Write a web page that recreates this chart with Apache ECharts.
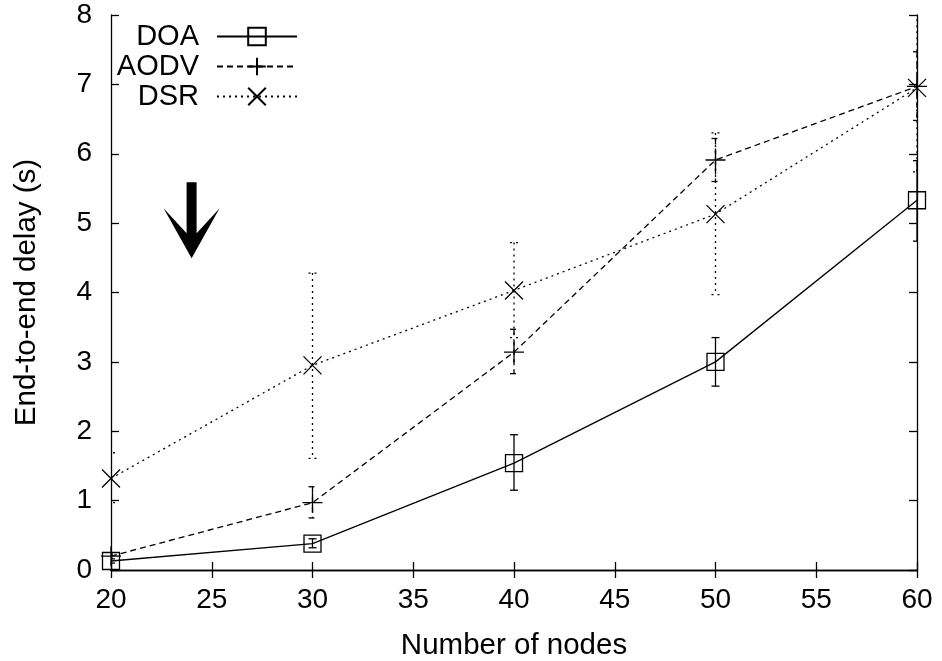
<!DOCTYPE html>
<html>
<head>
<meta charset="utf-8">
<script src="https://cdn.jsdelivr.net/npm/echarts@6/dist/echarts.min.js"></script>
<style>
  html, body { margin: 0; padding: 0; background: #fff; }
  #chart { width: 942px; height: 661px; }
</style>
</head>
<body>
<div id="chart"></div>
<script>
// Number of nodes in the network
const nodes = [20, 30, 40, 50, 60];

// Mean end-to-end delay (s) and error-bar bounds per protocol
const doaDelay = [0.13, 0.38, 1.54, 3.00, 5.33];
const doaLow   = [0.10, 0.32, 1.15, 2.65, 4.74];
const doaHigh  = [0.16, 0.45, 1.95, 3.35, 5.90];

const aodvDelay = [0.20, 0.97, 3.14, 5.91, 6.97];
const aodvLow   = [0.17, 0.75, 2.83, 5.60, 6.48];
const aodvHigh  = [0.23, 1.20, 3.47, 6.22, 7.47];

const dsrDelay = [1.32, 2.95, 4.03, 5.13, 6.95];
const dsrLow   = [0.97, 1.61, 3.35, 3.97, 5.74];
const dsrHigh  = [1.69, 4.28, 4.72, 6.30, 8.20];

// Axis ticks
const xTicks = [20, 25, 30, 35, 40, 45, 50, 55, 60];
const yTicks = [0, 1, 2, 3, 4, 5, 6, 7, 8];

const FONT = "'Liberation Sans', Arial, Helvetica, sans-serif";
const LW = 1.3;

const SQUARE = 'path://M0,0 L20,0 L20,20 L0,20 Z';
const PLUS = 'path://M0,10 L20,10 M10,0 L10,20';
const CROSS = 'path://M0,0 L20,20 M20,0 L0,20';
const ARROW = 'path://M23,0 L33,0 L33,51 L56,26 L28,76 L0,26 L23,51 Z';

function pairs(xs, ys) { return xs.map((x, i) => [x, ys[i]]); }
function triples(xs, lo, hi) { return xs.map((x, i) => [x, lo[i], hi[i]]); }

function lineSeries(name, values, symbol, size, dash) {
  return {
    name: name,
    type: 'line',
    data: pairs(nodes, values),
    symbol: symbol,
    symbolSize: size,
    z: 3,
    lineStyle: { color: '#000', width: LW, type: dash },
    itemStyle: { color: 'rgba(0,0,0,0)', borderColor: '#000', borderWidth: LW },
    emphasis: { disabled: true }
  };
}

function errorSeries(name, lo, hi, dash) {
  return {
    name: name,
    type: 'custom',
    clip: true,
    z: 2,
    data: triples(nodes, lo, hi),
    encode: { x: 0, y: [1, 2] },
    renderItem: function (params, api) {
      const x = api.value(0);
      const top = api.coord([x, api.value(2)]);
      const bot = api.coord([x, api.value(1)]);
      const cap = 4;
      const style = { stroke: '#000', lineWidth: LW, lineDash: dash, fill: null };
      return {
        type: 'group',
        children: [
          { type: 'line', shape: { x1: top[0], y1: top[1], x2: bot[0], y2: bot[1] }, style: style },
          { type: 'line', shape: { x1: top[0] - cap, y1: top[1], x2: top[0] + cap, y2: top[1] }, style: style },
          { type: 'line', shape: { x1: bot[0] - cap, y1: bot[1], x2: bot[0] + cap, y2: bot[1] }, style: style }
        ]
      };
    }
  };
}

const tickText = { color: '#000', fontSize: 28, fontFamily: FONT };
const titleText = { color: '#000', fontSize: 29.5, fontFamily: FONT };
const frameLine = { show: true, lineStyle: { color: '#000', width: LW } };
const innerTick = { show: true, inside: true, length: 8, lineStyle: { color: '#000', width: LW } };

const chart = echarts.init(document.getElementById('chart'), null, { renderer: 'canvas' });

const doa = lineSeries('DOA', doaDelay, SQUARE, 17, 'solid');
doa.markPoint = {
  symbol: ARROW,
  symbolSize: [56, 76],
  symbolKeepAspect: false,
  label: { show: false },
  itemStyle: { color: '#000', borderWidth: 0 },
  data: [{ coord: [24, 5.04] }]
};

chart.setOption({
  animation: false,
  backgroundColor: '#fff',
  textStyle: { fontFamily: FONT },
  grid: { left: 111, right: 25, top: 15, bottom: 91, containLabel: false, outerBoundsMode: 'none' },
  legend: {
    orient: 'vertical',
    align: 'right',
    right: 644,
    top: 22,
    padding: 0,
    itemGap: 1,
    itemWidth: 80,
    itemHeight: 22,
    selectedMode: false,
    data: ['DOA', 'AODV', 'DSR'],
    textStyle: { color: '#000', fontSize: 29, fontFamily: FONT, padding: [0, 13, 0, 0] }
  },
  xAxis: [
    {
      type: 'value',
      min: xTicks[0],
      max: xTicks[xTicks.length - 1],
      interval: xTicks[1] - xTicks[0],
      name: 'Number of nodes',
      nameLocation: 'middle',
      nameGap: 61,
      nameTextStyle: titleText,
      axisLine: frameLine,
      axisTick: innerTick,
      axisLabel: Object.assign({ margin: 16 }, tickText),
      splitLine: { show: false }
    },
    {
      type: 'value',
      position: 'top',
      min: xTicks[0],
      max: xTicks[xTicks.length - 1],
      interval: xTicks[1] - xTicks[0],
      axisLine: frameLine,
      axisTick: innerTick,
      axisLabel: { show: false },
      splitLine: { show: false }
    }
  ],
  yAxis: [
    {
      type: 'value',
      min: yTicks[0],
      max: yTicks[yTicks.length - 1],
      interval: yTicks[1] - yTicks[0],
      name: 'End-to-end delay (s)',
      nameLocation: 'middle',
      nameGap: 69,
      nameTextStyle: titleText,
      axisLine: frameLine,
      axisTick: innerTick,
      axisLabel: Object.assign({ margin: 19 }, tickText),
      splitLine: { show: false }
    },
    {
      type: 'value',
      position: 'right',
      min: yTicks[0],
      max: yTicks[yTicks.length - 1],
      interval: yTicks[1] - yTicks[0],
      axisLine: frameLine,
      axisTick: innerTick,
      axisLabel: { show: false },
      splitLine: { show: false }
    }
  ],
  series: [
    doa,
    lineSeries('AODV', aodvDelay, PLUS, 20, [6, 4]),
    lineSeries('DSR', dsrDelay, CROSS, 18, [2, 4]),
    errorSeries('DOA', doaLow, doaHigh, null),
    errorSeries('AODV', aodvLow, aodvHigh, [6, 4]),
    errorSeries('DSR', dsrLow, dsrHigh, [2, 4])
  ]
});
</script>
</body>
</html>
